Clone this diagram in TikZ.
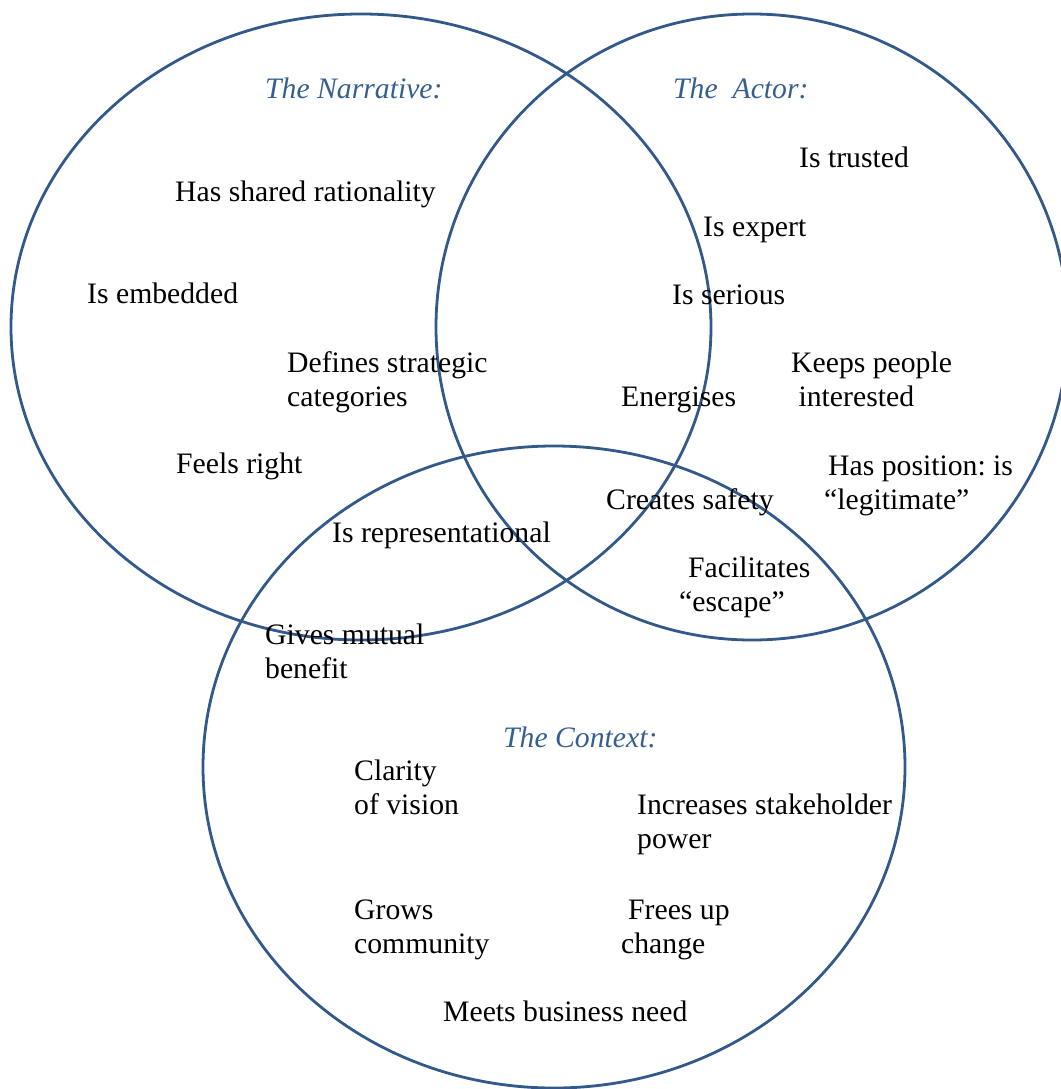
\documentclass[tikz,border=0pt]{standalone}
\usepackage{fontspec}
\setmainfont{Liberation Serif}
\usepackage{tikz}
\frenchspacing

\definecolor{vennblue}{HTML}{33598A}
\definecolor{titleblue}{HTML}{365F91}

\tikzset{
    vennset/.style={draw=vennblue, line width=2.8pt},
    item/.style={anchor=base west, inner sep=0pt, align=left,
        font=\fontsize{29.7}{34}\selectfont},
    head/.style={item, text=titleblue,
        font=\fontsize{29.7}{34}\selectfont\itshape},
}

\begin{document}
\begin{tikzpicture}[x=1pt, y=-1pt]
    \useasboundingbox (0, 0) rectangle (1060, 1089);

    % the three sets
    \coordinate (nar) at (361, 327);
    \coordinate (act) at (752, 327);
    \coordinate (con) at (554, 767);
    \draw[vennset] (nar) ellipse [x radius=350, y radius=313];
    \draw[vennset] (act) ellipse [x radius=316, y radius=313];
    \draw[vennset] (con) ellipse [x radius=351, y radius=321];

    % headings
    \node[head] (hn) at (265, 99) {The Narrative:};
    \node[head] (ha) at (673, 99) {The\ \ Actor:};
    \node[head] (hc) at (503, 747) {The Context:};

    % narrative (two-line nodes sit on their last baseline)
    \node[item] (n1) at (175, 201) {Has shared rationality};
    \node[item] (n2) at (87, 303) {Is embedded};
    \node[item] (n3) at (287, 406) {Defines strategic\\categories};
    \node[item] (n4) at (176, 473) {Feels right};
    \node[item] (n5) at (332, 542) {Is representational};
    \node[item] (n6) at (265, 678) {Gives mutual\\benefit};

    % actor
    \node[item] (a1) at (799, 167) {Is trusted};
    \node[item] (a2) at (703, 236) {Is expert};
    \node[item] (a3) at (672, 304) {Is serious};
    \node[item] (a4) at (791, 406) {Keeps people\\\ interested};
    \node[item] (a5) at (621, 406) {Energises};
    \node[item] (a6) at (828, 509) {Has position: is\\\hspace{-4pt}“legitimate”};
    \node[item] (a7) at (606, 509) {Creates safety};
    \node[item] (a8) at (688, 611) {Facilitates\\\hspace{-9pt}“escape”};

    % context
    \node[item] (c1) at (354, 814) {Clarity\\of vision};
    \node[item] (c2) at (637, 848) {Increases stakeholder\\power};
    \node[item] (c3) at (354, 953) {Grows\\community};
    \node[item] (c4) at (628, 953) {Frees up\\\hspace{-7pt}change};
    \node[item] (c5) at (443, 1021) {Meets business need};
\end{tikzpicture}
\end{document}
